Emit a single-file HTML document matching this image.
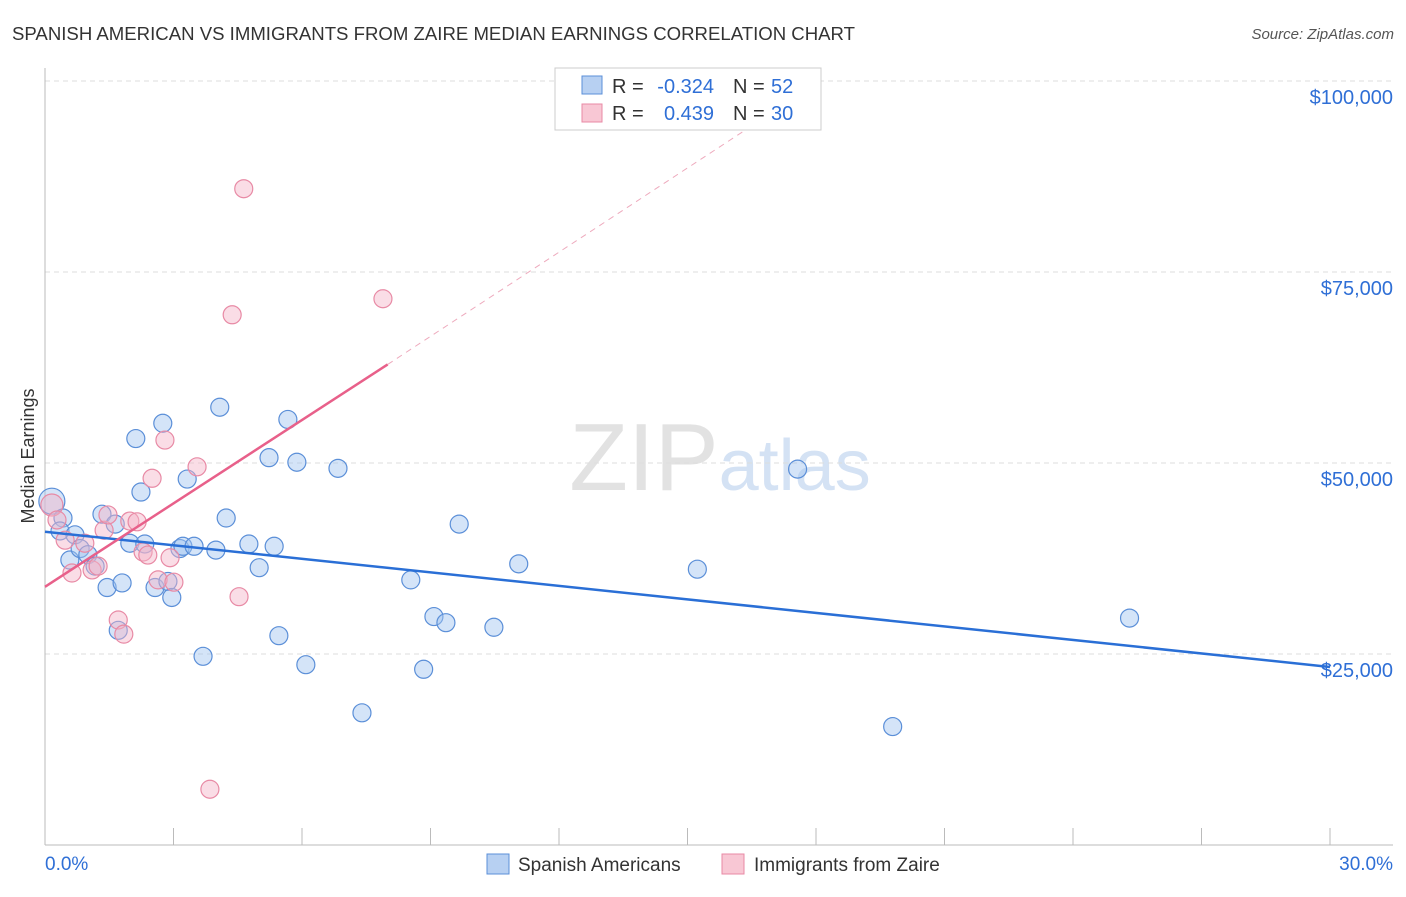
<!DOCTYPE html>
<html><head><meta charset="utf-8"><style>
body{margin:0;background:#fff;font-family:"Liberation Sans",sans-serif;}
svg text{font-family:"Liberation Sans",sans-serif;}
</style></head><body>
<svg id="chart" width="1406" height="892">
<text x="12" y="40" font-size="18.6" fill="#333">SPANISH AMERICAN VS IMMIGRANTS FROM ZAIRE MEDIAN EARNINGS CORRELATION CHART</text>
<text x="1394" y="39" font-size="15" fill="#555" font-style="italic" text-anchor="end">Source: ZipAtlas.com</text>
<text x="720" y="490" font-size="96" fill="#e2e2e2" text-anchor="middle" font-family="Liberation Serif">ZIP<tspan fill="#d4e2f4" font-family="Liberation Sans" font-size="72">atlas</tspan></text>
<g id="grid"></g><g id="axes"></g><g id="marks"></g>
<text transform="translate(34,456) rotate(-90)" font-size="18" fill="#333" text-anchor="middle">Median Earnings</text>
<g>
<rect x="555" y="68" width="266" height="62" fill="#fff" stroke="#ccc"/>
<rect x="582" y="76" width="20" height="18" fill="#b7d0f2" stroke="#5b8fd8"/>
<rect x="582" y="104" width="20" height="18" fill="#f8c7d4" stroke="#e88aa5"/>
<text x="612" y="93" font-size="20" fill="#333">R =</text>
<text x="714" y="93" font-size="20" fill="#2f6fd6" text-anchor="end">-0.324</text>
<text x="733" y="93" font-size="20" fill="#333">N =</text>
<text x="771" y="93" font-size="20" fill="#2f6fd6">52</text>
<text x="612" y="120" font-size="20" fill="#333">R =</text>
<text x="714" y="120" font-size="20" fill="#2f6fd6" text-anchor="end">0.439</text>
<text x="733" y="120" font-size="20" fill="#333">N =</text>
<text x="771" y="120" font-size="20" fill="#2f6fd6">30</text>
</g>
<g>
<rect x="487" y="854" width="22" height="20" fill="#b7d0f2" stroke="#5b8fd8"/>
<text x="518" y="871" font-size="19" fill="#333">Spanish Americans</text>
<rect x="722" y="854" width="22" height="20" fill="#f8c7d4" stroke="#e88aa5"/>
<text x="754" y="871" font-size="19" fill="#333">Immigrants from Zaire</text>
</g>
</svg>
<script>
const yTicks=[25000,50000,75000,100000];
const yTickLabels=["$25,000","$50,000","$75,000","$100,000"];
const xTickLabels=["0.0%","30.0%"];
const blueX=[0.16,0.42,0.35,0.58,0.7,0.82,1.0,1.17,1.33,1.45,1.64,1.71,1.8,1.98,2.12,2.24,2.33,2.57,2.75,2.87,2.96,3.15,3.22,3.32,3.48,3.69,3.99,4.08,4.23,4.76,5.0,5.23,5.35,5.46,5.67,5.88,6.09,6.84,7.4,8.54,8.84,9.08,9.36,9.67,10.48,11.06,15.23,17.57,19.79,25.32];
const blueY=[45000,42800,41100,37300,40600,38800,38000,36500,43300,33700,42000,28100,34300,39500,53200,46200,39400,33700,55200,34500,32400,38800,39100,47900,39100,24700,38600,57300,42800,39400,36300,50700,39100,27400,55700,50100,23600,49300,17300,34700,23000,29900,29100,42000,28500,36800,36100,49200,15500,29700];
const pinkX=[0.16,0.28,0.47,0.63,0.93,1.10,1.24,1.38,1.47,1.71,1.84,1.98,2.15,2.29,2.40,2.50,2.64,2.80,2.92,3.01,3.55,3.85,4.37,4.53,4.64,7.89];
const pinkY=[44500,42540,39900,35600,39500,36000,36500,41200,43200,29450,27600,42400,42300,38350,37950,48000,34700,53000,37600,34400,49500,7300,69400,32500,85900,71500];
const blueLine=[[0,41000],[30,23300]];
const pinkLine=[[0,33800],[8.0,62900]];
const pinkDash=[[8.0,62900],[17.2,96700]];
const X=v=>45+v/30*1285, Y=v=>845-v*191/25000;
const NS="http://www.w3.org/2000/svg";
function mk(p,t,a){const e=document.createElementNS(NS,t);for(const k in a)e.setAttribute(k,a[k]);p.appendChild(e);return e;}
const grid=document.getElementById('grid'),axes=document.getElementById('axes'),marks=document.getElementById('marks');
yTicks.forEach((v,i)=>{
 const l=mk(grid,'line',{x1:45,x2:1393,y1:Y(v),y2:Y(v),stroke:'#ddd','stroke-dasharray':'5,4'});
 
 
 const t=mk(grid,'text',{x:1393,y:Y(v)+23,'font-size':20,fill:'#2f6fd6','text-anchor':'end'});t.textContent=yTickLabels[i];
 
 
});
mk(axes,'line',{x1:45,x2:45,y1:68,y2:845,stroke:'#bbb'});
mk(axes,'line',{x1:45,x2:1393,y1:845,y2:845,stroke:'#bbb'});
for(let k=0;k<=10;k++){mk(axes,'line',{x1:X(k*3),x2:X(k*3),y1:828,y2:845,stroke:'#bbb'});}
const xl0=mk(axes,'text',{x:45,y:870,'font-size':19,fill:'#2f6fd6'});xl0.textContent=xTickLabels[0];


const xl1=mk(axes,'text',{x:1393,y:870,'font-size':19,fill:'#2f6fd6','text-anchor':'end'});xl1.textContent=xTickLabels[1];


blueX.forEach((x,i)=>{const c=mk(marks,'circle',{cx:X(x),cy:Y(blueY[i]),r:i==0?13:9,fill:'rgba(160,195,240,0.45)',stroke:'#5b8fd8','stroke-width':1.2});
 
 });
pinkX.forEach((x,i)=>{const c=mk(marks,'circle',{cx:X(x),cy:Y(pinkY[i]),r:i==0?11:9,fill:'rgba(245,180,200,0.45)',stroke:'#e88aa5','stroke-width':1.2});
 
 });
const bl=mk(marks,'line',{x1:X(blueLine[0][0]),y1:Y(blueLine[0][1]),x2:X(blueLine[1][0]),y2:Y(blueLine[1][1]),stroke:'#2a6fd6','stroke-width':2.5});


const pl=mk(marks,'line',{x1:X(pinkLine[0][0]),y1:Y(pinkLine[0][1]),x2:X(pinkLine[1][0]),y2:Y(pinkLine[1][1]),stroke:'#e8608a','stroke-width':2.5});


const pd=mk(marks,'line',{x1:X(pinkDash[0][0]),y1:Y(pinkDash[0][1]),x2:X(pinkDash[1][0]),y2:Y(pinkDash[1][1]),stroke:'#eeaabd','stroke-width':1,'stroke-dasharray':'6,5'});


</script>
</body></html>
